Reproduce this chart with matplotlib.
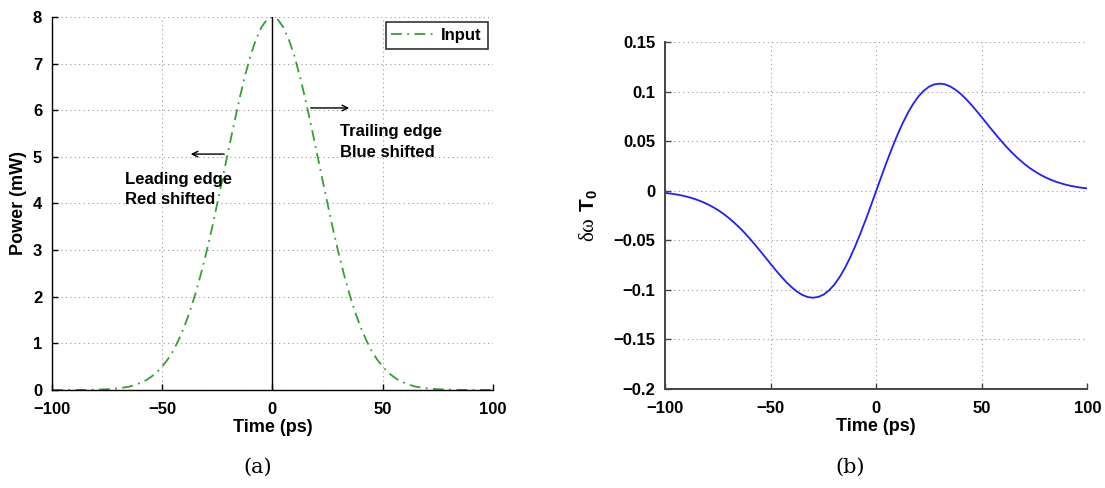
import matplotlib
matplotlib.use("Agg")
import matplotlib.pyplot as plt

# ---- data ----
time_ps = [-100, -97.5, -95, -92.5, -90, -87.5, -85, -82.5, -80, -77.5, -75, -72.5, -70,
           -67.5, -65, -62.5, -60, -57.5, -55, -52.5, -50, -47.5, -45, -42.5, -40, -37.5,
           -35, -32.5, -30, -27.5, -25, -22.5, -20, -17.5, -15, -12.5, -10, -7.5, -5, -2.5,
           0, 2.5, 5, 7.5, 10, 12.5, 15, 17.5, 20, 22.5, 25, 27.5, 30, 32.5, 35, 37.5, 40,
           42.5, 45, 47.5, 50, 52.5, 55, 57.5, 60, 62.5, 65, 67.5, 70, 72.5, 75, 77.5, 80,
           82.5, 85, 87.5, 90, 92.5, 95, 97.5, 100]
power_mw = [0.0, 0.0, 0.0, 0.0, 0.0, 0.0, 0.001, 0.003, 0.006, 0.010, 0.015, 0.023, 0.035,
            0.051, 0.07, 0.104, 0.15, 0.203, 0.28, 0.374, 0.50, 0.653, 0.84, 1.075, 1.35,
            1.675, 2.05, 2.473, 2.94, 3.449, 4.00, 4.559, 5.13, 5.69, 6.23, 6.725, 7.16,
            7.515, 7.78, 7.945, 8.00, 7.945, 7.78, 7.515, 7.16, 6.725, 6.23, 5.69, 5.13,
            4.559, 4.00, 3.449, 2.94, 2.473, 2.05, 1.675, 1.35, 1.075, 0.84, 0.653, 0.50,
            0.374, 0.28, 0.203, 0.15, 0.104, 0.07, 0.051, 0.035, 0.023, 0.015, 0.010, 0.006,
            0.003, 0.001, 0.0, 0.0, 0.0, 0.0, 0.0, 0.0]
chirp = [-0.0023, -0.0029, -0.0037, -0.0047, -0.0059, -0.0074, -0.0091, -0.0112, -0.0136,
         -0.0164, -0.0196, -0.0232, -0.0273, -0.0319, -0.0369, -0.0423, -0.0482, -0.0544,
         -0.0608, -0.0674, -0.0740, -0.0805, -0.0867, -0.0925, -0.0976, -0.1019, -0.1052,
         -0.1073, -0.1080, -0.1072, -0.1049, -0.1008, -0.0951, -0.0876, -0.0786, -0.0680,
         -0.0561, -0.0431, -0.0293, -0.0148, 0.0, 0.0148, 0.0293, 0.0431, 0.0561, 0.0680,
         0.0786, 0.0876, 0.0951, 0.1008, 0.1049, 0.1072, 0.1080, 0.1073, 0.1052, 0.1019,
         0.0976, 0.0925, 0.0867, 0.0805, 0.0740, 0.0674, 0.0608, 0.0544, 0.0482, 0.0423,
         0.0369, 0.0319, 0.0273, 0.0232, 0.0196, 0.0164, 0.0136, 0.0112, 0.0091, 0.0074,
         0.0059, 0.0047, 0.0037, 0.0029, 0.0023]
x_ticks = [-100, -50, 0, 50, 100]
x_tick_labels = ["\u2212100", "\u221250", "0", "50", "100"]
power_ticks = [0, 1, 2, 3, 4, 5, 6, 7, 8]
chirp_ticks = [-0.2, -0.15, -0.1, -0.05, 0, 0.05, 0.1, 0.15]
chirp_tick_labels = ["\u22120.2", "\u22120.15", "\u22120.1", "\u22120.05", "0", "0.05", "0.1", "0.15"]

plt.rcParams['font.family'] = ['Liberation Sans', 'DejaVu Sans']
plt.rcParams['mathtext.fontset'] = 'custom'
plt.rcParams['mathtext.rm'] = 'Liberation Serif'
plt.rcParams['mathtext.bf'] = 'Liberation Sans:bold'

fig = plt.figure(figsize=(11.05, 4.88), dpi=100)
ax1 = fig.add_axes([0.047, 0.201, 0.399, 0.764])
ax2 = fig.add_axes([0.602, 0.203, 0.382, 0.711])

green = '#33a033'

def style(ax, spine_color, spine_lw):
    for s in ['top', 'right']:
        ax.spines[s].set_visible(False)
    for s in ['left', 'bottom']:
        ax.spines[s].set_color(spine_color)
        ax.spines[s].set_linewidth(spine_lw)
    ax.tick_params(direction='in', length=4, width=1, colors=spine_color,
                   labelcolor='black', labelsize=12)
    ax.tick_params(axis='x', pad=9)
    ax.tick_params(axis='y', pad=7)
    for lab in ax.get_xticklabels() + ax.get_yticklabels():
        lab.set_fontweight('bold')
    ax.grid(True, linestyle=(0, (1, 3)), color='#999999', linewidth=0.8)
    ax.set_axisbelow(True)

# ---- (a) ----
ax1.plot(time_ps, power_mw, linestyle='-.', color=green, linewidth=1.3, label='Input',
         dashes=(6, 3, 1, 3))
ax1.axvline(0, ymin=0, ymax=1, color='black', linewidth=1.0)
ax1.set_xlim(-100, 100)
ax1.set_ylim(0, 8)
ax1.set_xticks(x_ticks)
ax1.set_xticklabels(x_tick_labels)
ax1.set_yticks(power_ticks)
style(ax1, 'black', 1.0)
ax1.set_xlabel('Time (ps)', fontsize=13, fontweight='bold', labelpad=1)
ax1.set_ylabel('Power (mW)', fontsize=13, fontweight='bold', labelpad=4)
leg = ax1.legend(loc='upper right', prop={'weight': 'bold', 'size': 12},
                 frameon=True, fancybox=False, handlelength=2.6, borderpad=0.35,
                 handletextpad=0.4, borderaxespad=0.3)
leg.get_frame().set_edgecolor('black')
leg.get_frame().set_linewidth(1.2)

ax1.annotate('', xy=(-38.3, 5.06), xytext=(-20.6, 5.06),
             arrowprops=dict(arrowstyle='->', color='black', lw=1.0))
ax1.annotate('', xy=(36.1, 6.05), xytext=(16.1, 6.05),
             arrowprops=dict(arrowstyle='->', color='black', lw=1.0))
ax1.text(-66.9, 4.68, 'Leading edge\nRed shifted', fontsize=12, fontweight='bold',
         va='top', ha='left', linespacing=1.45)
ax1.text(30.6, 5.70, 'Trailing edge\nBlue shifted', fontsize=12, fontweight='bold',
         va='top', ha='left', linespacing=1.45)

# ---- (b) ----
ax2.plot(time_ps, chirp, color='#1f1fff', linewidth=1.3)
ax2.set_xlim(-100, 100)
ax2.set_ylim(-0.2, 0.15)
ax2.set_xticks(x_ticks)
ax2.set_xticklabels(x_tick_labels)
ax2.set_yticks(chirp_ticks)
ax2.set_yticklabels(chirp_tick_labels)
style(ax2, '#444444', 1.4)
ax2.set_xlabel('Time (ps)', fontsize=13, fontweight='bold', labelpad=1)
ax2.set_ylabel(r'$\mathrm{\delta\omega}\ \mathbf{T_0}$', fontsize=15, labelpad=10)

# captions
fig.text(258 / 1105, 1 - 467 / 488, '(a)', fontsize=15, family='DejaVu Serif',
         ha='center', va='center')
fig.text(850 / 1105, 1 - 467 / 488, '(b)', fontsize=15, family='DejaVu Serif',
         ha='center', va='center')

fig.savefig('out.png', dpi=100)
